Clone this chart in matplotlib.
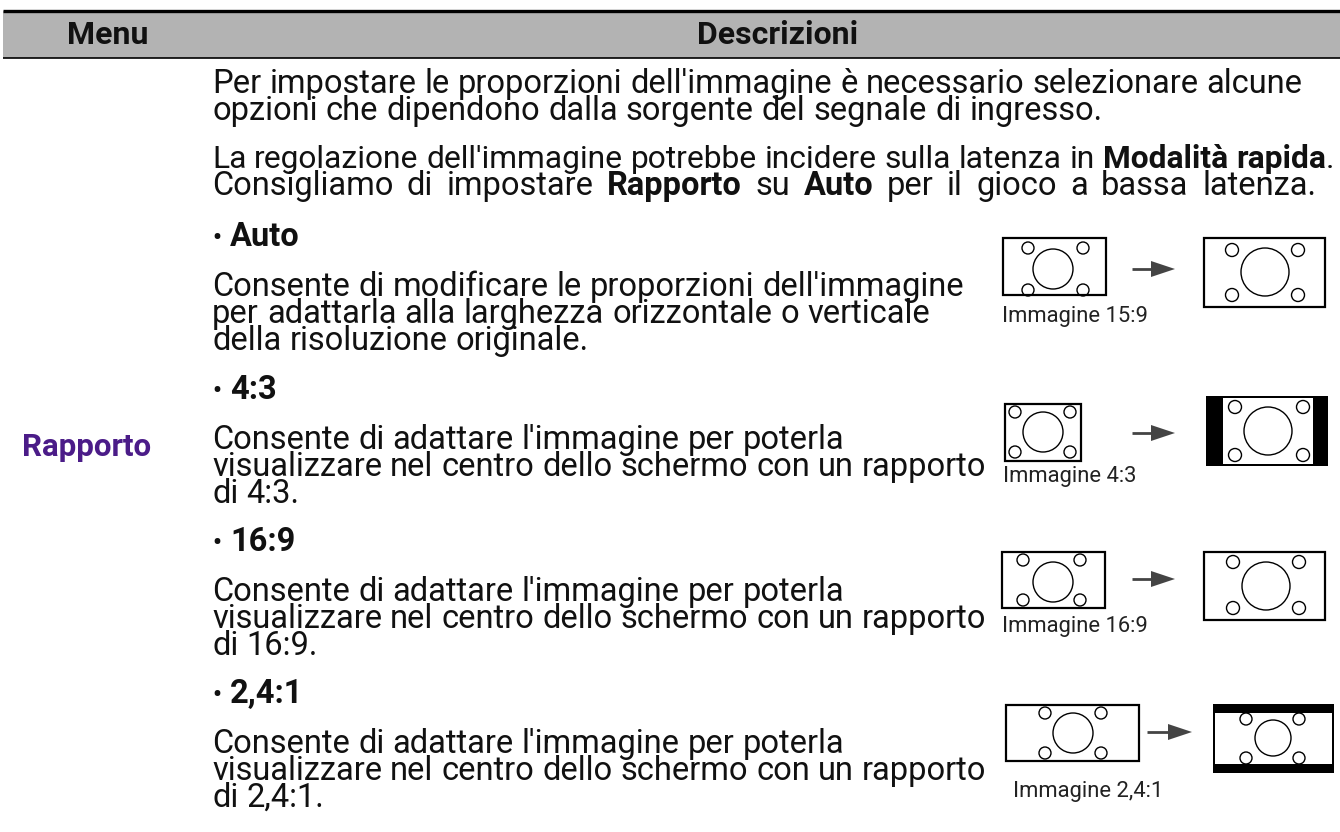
import matplotlib
matplotlib.use("Agg")
import matplotlib.pyplot as plt
from matplotlib.patches import Rectangle, Circle, Polygon

plt.rcParams["font.family"] = ["Roboto", "DejaVu Sans"]

# header
header_labels = ["Menu", "Descrizioni"]
menu_item = "Rapporto"

# paragraphs: list of lines, each line a list of (text, bold)
intro_lines = [
    [("Per impostare le proporzioni dell'immagine è necessario selezionare alcune", False)],
    [("opzioni che dipendono dalla sorgente del segnale di ingresso.", False)],
]
latency_lines = [
    [("La regolazione dell'immagine potrebbe incidere sulla latenza in ", False),
     ("Modalità rapida", True), (".", False)],
    [("Consigliamo di impostare ", False), ("Rapporto", True), (" su ", False),
     ("Auto", True), (" per il gioco a bassa latenza.", False)],
]
# right edge of the two latency lines in the reference
latency_right = [1333, 1316]
option_names = ["Auto", "4:3", "16:9", "2,4:1"]
option_texts = [
    ["Consente di modificare le proporzioni dell'immagine",
     "per adattarla alla larghezza orizzontale o verticale",
     "della risoluzione originale."],
    ["Consente di adattare l'immagine per poterla",
     "visualizzare nel centro dello schermo con un rapporto",
     "di 4:3."],
    ["Consente di adattare l'immagine per poterla",
     "visualizzare nel centro dello schermo con un rapporto",
     "di 16:9."],
    ["Consente di adattare l'immagine per poterla",
     "visualizzare nel centro dello schermo con un rapporto",
     "di 2,4:1."],
]
image_labels = ["Immagine 15:9", "Immagine 4:3", "Immagine 16:9", "Immagine 2,4:1"]

W, H = 1340, 832
fig = plt.figure(figsize=(W / 100, H / 100), dpi=100)
ax = fig.add_axes([0, 0, 1, 1])
ax.set_xlim(0, W)
ax.set_ylim(H, 0)
ax.axis("off")
renderer = fig.canvas.get_renderer()

FS = 23.5
TX = 212
INK = "#111111"

# header bar
ax.add_patch(Rectangle((3, 11), W - 3, 47, facecolor="#b3b3b3", edgecolor="none"))
ax.plot([3, W], [11, 11], color="black", lw=2.4, solid_capstyle="butt")
ax.plot([3, W], [58, 58], color="black", lw=1.2, solid_capstyle="butt")
ax.text(108, 35, header_labels[0], fontsize=23, fontweight="bold", color=INK,
        ha="center", va="center")
ax.text(778, 35, header_labels[1], fontsize=23, fontweight="bold", color=INK,
        ha="center", va="center")

ax.text(22, 456, menu_item, fontsize=22.5, fontweight="bold", color="#4b1c88",
        ha="left", va="baseline")


def text_width(txt, bold, size):
    # width including spaces, measured against a sentinel character
    t1 = ax.text(0, 0, txt + "|", fontsize=size, fontweight="bold" if bold else "normal")
    t2 = ax.text(0, 0, "|", fontsize=size, fontweight="bold" if bold else "normal")
    w = t1.get_window_extent(renderer).width - t2.get_window_extent(renderer).width
    t1.remove()
    t2.remove()
    return w


def rich_line(x, y, parts, right=None, size=FS):
    # word by word; if a right edge is given, shrink to fit or widen the spaces
    words = []
    for txt, bold in parts:
        chunks = txt.split(" ")
        for i, c in enumerate(chunks):
            if c:
                words.append((c, bold, False))
            if i < len(chunks) - 1:
                words.append((" ", bold, True))
    total = sum(text_width(w, b, size) for w, b, _ in words)
    n_sp = sum(1 for w in words if w[2])
    extra = 0.0
    if right is not None:
        if x + total > right:
            size = size * (right - x) / total
        elif n_sp:
            extra = (right - x - total) / n_sp
    for txt, bold, is_sp in words:
        w = text_width(txt, bold, size)
        if not is_sp:
            ax.text(x, y, txt, fontsize=size, fontweight="bold" if bold else "normal",
                    ha="left", va="baseline", color=INK)
            x += w
        else:
            x += w + extra


y = 93
for line in intro_lines:
    rich_line(TX, y, line)
    y += 27
y = 168
for line, r in zip(latency_lines, latency_right):
    rich_line(TX, y, line, right=r)
    y += 27

bullet_y = [246, 399, 551, 703]
for name, lines, by in zip(option_names, option_texts, bullet_y):
    ax.text(TX, by - 1, "•", fontsize=18, fontweight="bold", color=INK, ha="left", va="baseline")
    ax.text(TX + 18, by, name, fontsize=FS, fontweight="bold", color=INK,
            ha="left", va="baseline")
    for i, ln in enumerate(lines):
        rich_line(TX, by + 50 + 27 * i, [(ln, False)])


def screen(small, big, lw=1.0):
    (sx0, sy0, sx1, sy1, sr) = small
    for cx in (sx0, sx1):
        for cy in (sy0, sy1):
            ax.add_patch(Circle((cx, cy), sr, facecolor="none", edgecolor="black", lw=lw))
    ax.add_patch(Circle(big[:2], big[2], facecolor="none", edgecolor="black", lw=lw))


def arrow(x0, x1, y):
    ax.plot([x0, x1 - 22], [y, y], color="#444444", lw=2, solid_capstyle="butt")
    ax.add_patch(Polygon([(x1 - 24, y - 8), (x1, y), (x1 - 24, y + 8)],
                         closed=True, facecolor="#444444", edgecolor="none"))


LBL = 15.8

# Auto: 15:9 -> full
ax.add_patch(Rectangle((1003, 238), 103, 57, facecolor="white", edgecolor="black", lw=1.6))
screen((1028, 248, 1083, 290, 6), (1053, 269, 20))
arrow(1132, 1175, 269)
ax.add_patch(Rectangle((1204, 238), 121, 69, facecolor="white", edgecolor="black", lw=1.6))
screen((1232, 250, 1298, 295, 6.5), (1265, 272, 24))
ax.text(1002, 322, image_labels[0], fontsize=LBL, color="#222222", ha="left", va="baseline")

# 4:3 -> pillarbox
ax.add_patch(Rectangle((1005, 404), 76, 57, facecolor="white", edgecolor="black", lw=1.6))
screen((1015, 412, 1070, 452, 6), (1043, 432, 20))
arrow(1132, 1175, 433)
ax.add_patch(Rectangle((1206, 396), 122, 70, facecolor="black", edgecolor="none"))
ax.add_patch(Rectangle((1223, 398), 90, 66, facecolor="white", edgecolor="none"))
screen((1235, 407, 1303, 455, 6.5), (1268, 431, 24))
ax.text(1003, 482, image_labels[1], fontsize=LBL, color="#222222", ha="left", va="baseline")

# 16:9 -> full
ax.add_patch(Rectangle((1002, 552), 103, 56, facecolor="white", edgecolor="black", lw=1.6))
screen((1023, 560, 1080, 600, 6), (1053, 582, 20))
arrow(1132, 1175, 579)
ax.add_patch(Rectangle((1204, 552), 121, 68, facecolor="white", edgecolor="black", lw=1.6))
screen((1233, 562, 1299, 608, 6.5), (1266, 586, 24))
ax.text(1002, 632, image_labels[2], fontsize=LBL, color="#222222", ha="left", va="baseline")

# 2,4:1 -> letterbox
ax.add_patch(Rectangle((1006, 705), 133, 56, facecolor="white", edgecolor="black", lw=1.6))
screen((1045, 713, 1101, 753, 6), (1073, 733, 20))
arrow(1147, 1192, 732)
ax.add_patch(Rectangle((1213, 704), 121, 69, facecolor="black", edgecolor="none"))
ax.add_patch(Rectangle((1215, 713), 117, 51, facecolor="white", edgecolor="none"))
screen((1246, 719, 1299, 758, 6), (1273, 738, 18))
ax.text(1013, 797, image_labels[3], fontsize=LBL, color="#222222", ha="left", va="baseline")

fig.savefig("out.png", dpi=100)
